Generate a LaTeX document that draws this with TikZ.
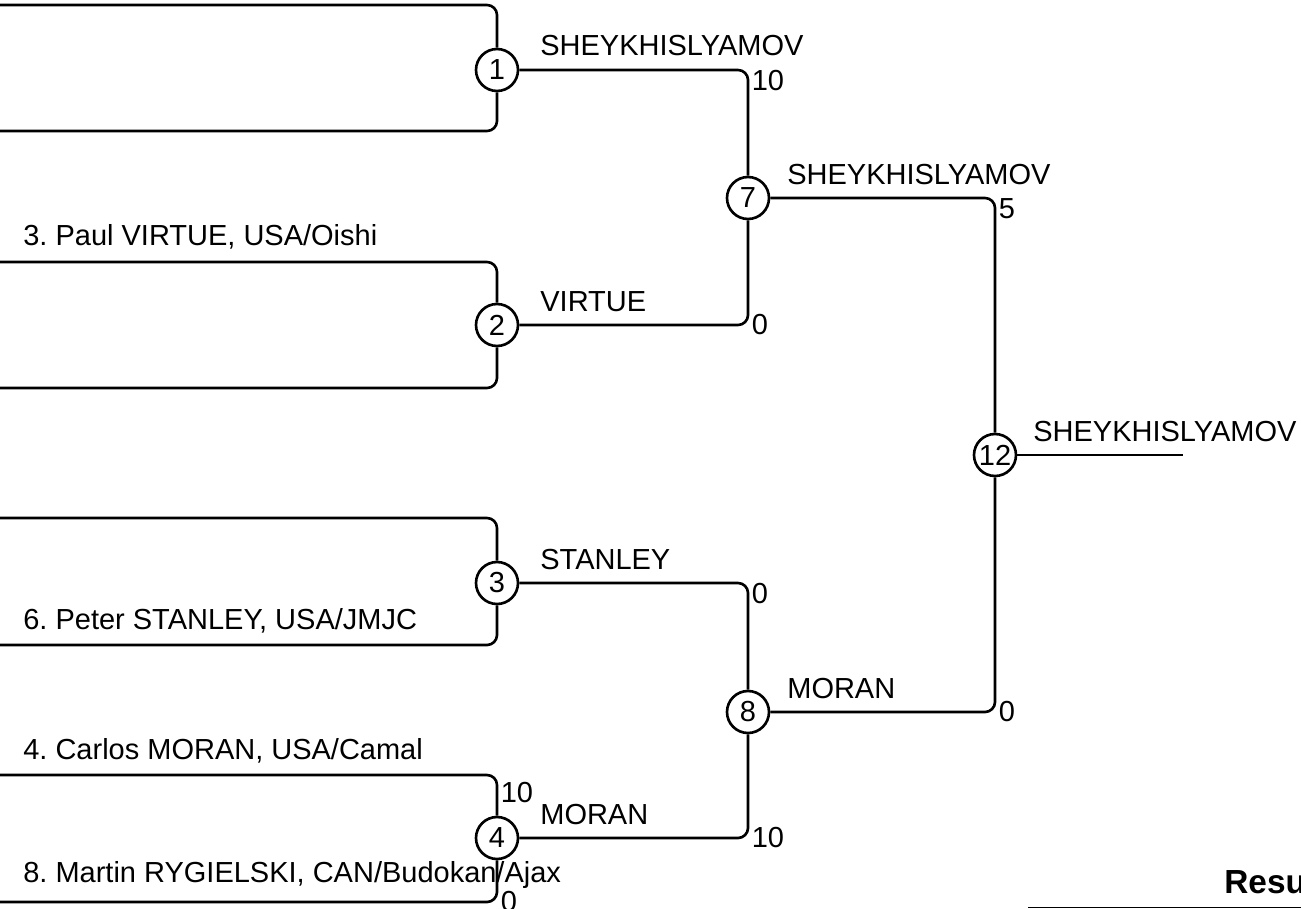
\documentclass[tikz,border=0pt]{standalone}
\usepackage{fontspec}
\setmainfont{Liberation Sans}
\usetikzlibrary{positioning}
\frenchspacing
\tikzset{
  bout/.style={
    circle, draw, line width=1.5pt, minimum size=0.84cm,
    inner sep=0pt, font=\fontsize{16.5}{19}\selectfont
  },
  bracket/.style={line width=1.5pt, rounded corners=0.2cm},
  entrant/.style={font=\fontsize{16.5}{19}\selectfont, anchor=base west, inner sep=0pt},
  winner/.style={font=\fontsize{16.5}{19}\selectfont, anchor=base west, inner sep=0pt},
  score/.style={font=\fontsize{16.5}{19}\selectfont, inner sep=2pt},
}

\begin{document}
\begin{tikzpicture}[x=0.02cm, y=-0.02cm]
\useasboundingbox (0,0) rectangle (1301,909);

% Bouts
\node[bout] (m1) at (497,70) {1};
\node[bout] (m2) at (497,325) {2};
\node[bout] (m3) at (497,583) {3};
\node[bout] (m4) at (497,838) {4};
\node[bout] (m7) at (748,198) {7};
\node[bout] (m8) at (748,712) {8};
\node[bout] (m12) at (995,455) {12};

% Entrant slots
\coordinate (e1t) at (0,5);
\coordinate (e1b) at (0,131);
\coordinate (e2t) at (0,262);
\coordinate (e2b) at (0,388);
\coordinate (e3t) at (0,518);
\coordinate (e3b) at (0,645);
\coordinate (e4t) at (0,775);
\coordinate (e4b) at (0,902);
\coordinate (fin) at (1183,455);

\draw[bracket] (e1t) -| (m1);
\draw[bracket] (e1b) -| (m1);
\draw[bracket] (e2t) -| (m2);
\draw[bracket] (e2b) -| (m2);
\draw[bracket] (e3t) -| (m3);
\draw[bracket] (e3b) -| (m3);
\draw[bracket] (e4t) -| (m4);
\draw[bracket] (e4b) -| (m4);

\node[entrant] (n2t) at (23,245) {3. Paul VIRTUE, USA/Oishi};
\node[entrant] (n3b) at (23,629) {6. Peter STANLEY, USA/JMJC};
\node[entrant] (n4t) at (23,759) {4. Carlos MORAN, USA/Camal};
\node[entrant] (n4b) at (23,882) {8. Martin RYGIELSKI, CAN/Budokan/Ajax};

\node[score, anchor=north west] (s4t) at ([yshift=-2pt]e4t -| m4) {10};
\node[score, anchor=west] (s4b) at (e4b -| m4) {0};

% Later rounds
\draw[bracket] (m1) -| (m7);
\draw[bracket] (m2) -| (m7);
\draw[bracket] (m3) -| (m8);
\draw[bracket] (m4) -| (m8);
\draw[bracket] (m7) -| (m12);
\draw[bracket] (m8) -| (m12);
\draw[bracket] (m12) -- (fin);

\node[winner] (w1) at (540,56) {SHEYKHISLYAMOV};
\node[winner] (w2) at (540,311) {VIRTUE};
\node[winner] (w3) at (540,569) {STANLEY};
\node[winner] (w4) at (540,824) {MORAN};
\node[winner] (w7) at (787,184) {SHEYKHISLYAMOV};
\node[winner] (w8) at (787,698) {MORAN};
\node[winner] (w12) at (1033,441) {SHEYKHISLYAMOV};

\node[score, anchor=north west] (s1) at ([yshift=2pt]m1 -| m7) {10};
\node[score, anchor=west] (s2) at (m2 -| m7) {0};
\node[score, anchor=north west] (s3) at ([yshift=2pt]m3 -| m8) {0};
\node[score, anchor=west] (s4) at (m4 -| m8) {10};
\node[score, anchor=north west] (s7) at ([yshift=2pt]m7 -| m12) {5};
\node[score, anchor=west] (s8) at (m8 -| m12) {0};

% Results heading
\node[font=\bfseries\fontsize{19}{22}\selectfont, anchor=base west, inner sep=0pt] (res) at (1224,893) {Resu};
\coordinate (rl) at (1028,907.5);
\coordinate (rr) at (1301,907.5);
\draw[line width=0.8pt] (rl) -- (rr);

\end{tikzpicture}
\end{document}
